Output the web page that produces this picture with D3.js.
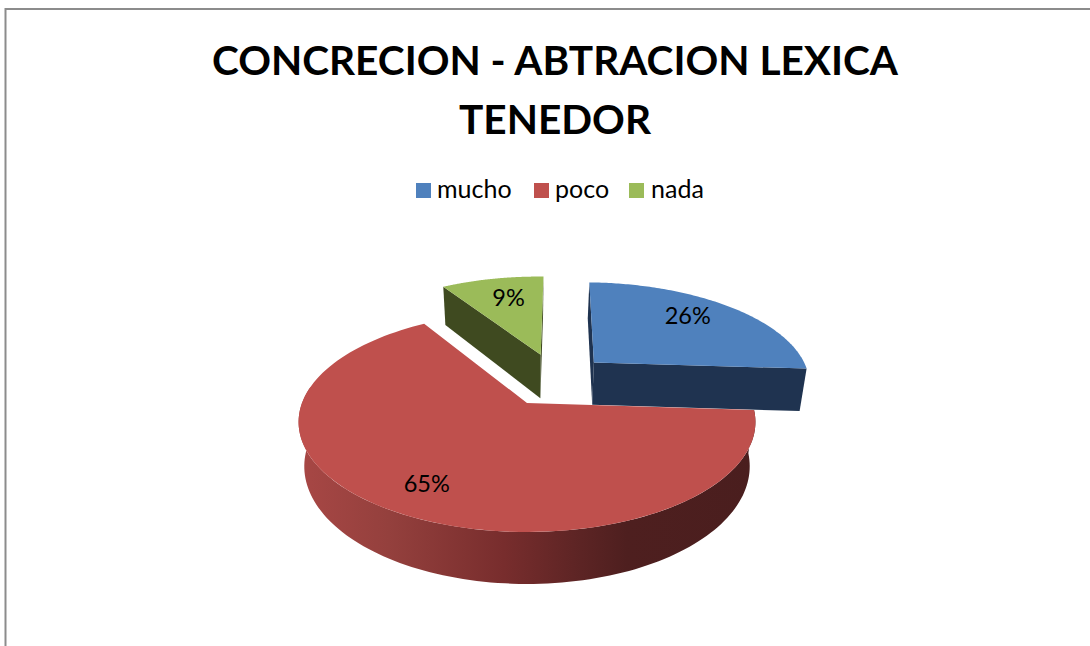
<!DOCTYPE html>
<html><head><meta charset="utf-8">
<script src="https://cdn.jsdelivr.net/npm/d3@7"></script>
<style>html,body{margin:0;padding:0;background:#fff;overflow:hidden}svg{display:block}text{font-family:Lato,"Open Sans",sans-serif;fill:#000}</style>
</head><body><svg id="c" width="1090" height="646"></svg>
<script>
const titleLines = ["CONCRECION - ABTRACION LEXICA", "TENEDOR"];
const categories = ["mucho", "poco", "nada"];
const values = [25.6, 65.2, 9.2];
const colors = ["#4F81BD", "#BF504D", "#9BBB59"];
const wallColors = ["#1F3350", "#4C1F1F", "#3F4A20"];
const explodeX = [0.318, 0, 0.066];
const explodeY = [-0.405, 0, -0.49];
const sliceDepth = [45, 43, 47];
const labelDX = [-10, -1, 6], labelDY = [-2, 3, 3];

const svg = d3.select("#c");
const defs = svg.append("defs");
const grad = defs.append("linearGradient").attr("id", "rim").attr("gradientUnits", "userSpaceOnUse")
  .attr("x1", 298).attr("x2", 755).attr("y1", 0).attr("y2", 0);
[[0, "#A84745"], [0.2, "#94403D"], [0.45, "#782D2D"], [0.62, "#5C2424"], [0.72, "#4E1F1F"], [1, "#4A1E1E"]]
  .forEach(s => grad.append("stop").attr("offset", s[0]).attr("stop-color", s[1]));

// chart frame
svg.append("path").attr("d", "M1090,9H5.5V646").attr("fill", "none").attr("stroke", "#8C8C8C").attr("stroke-width", 2);

// title
svg.append("g").selectAll("text").data(titleLines).join("text")
  .attr("x", 555).attr("y", (d, i) => 75 + i * 59).attr("text-anchor", "middle")
  .attr("font-size", 40.6).attr("font-weight", 700).text(d => d);

// legend
const legendSwatchX = [416, 534, 629], legendTextX = [437, 555, 651];
const legend = svg.append("g").selectAll("g").data(categories).join("g");
legend.append("rect").attr("x", (d, i) => legendSwatchX[i]).attr("y", 183).attr("width", 15).attr("height", 15)
  .attr("fill", (d, i) => colors[i]);
legend.append("text").attr("x", (d, i) => legendTextX[i]).attr("y", 198).attr("font-size", 25).text(d => d);

// perspective projection of the pie plane
const cx = 527, cy = 403, Rx = 225, Ry = 106.7, k = 0.1727, bottomScale = 0.975;
const rotation = 1.5 * Math.PI / 180;
const rxScale = d3.scaleLinear().domain([0, 1]).range([0, Rx]);
const ryScale = d3.scaleLinear().domain([0, 1]).range([0, Ry]);
function project(X, Y, depth) {
  const s = 1 / (1 - k * Y);
  let x = cx + rxScale(X) * s, y = cy + ryScale(Y) * s;
  if (depth) { x = cx + (x - cx) * bottomScale; y += depth * s; }
  return [x, y];
}
const pie = d3.pie().sort(null).value(d => d).startAngle(rotation).endAngle(rotation + 2 * Math.PI)(values);
const line = d3.line();
const pt = (i, r, a, low) => project(explodeX[i] + r * Math.sin(a), explodeY[i] - r * Math.cos(a), low ? sliceDepth[i] : 0);
const rimPts = (i, a0, a1, low) => d3.range(0, 121).map(n => pt(i, 1, a0 + (a1 - a0) * n / 120, low));
const topPath = i => line([pt(i, 0, 0), ...rimPts(i, pie[i].startAngle, pie[i].endAngle, false)]) + "Z";
const wall = (i, a) => line([pt(i, 0, 0), pt(i, 1, a), pt(i, 1, a, true), pt(i, 0, 0, true)]) + "Z";

const g = svg.append("g");
// cut-faces of the exploded slices, behind the big slice
g.append("path").attr("d", wall(2, pie[2].startAngle)).attr("fill", wallColors[2]);
g.append("path").attr("d", wall(2, pie[2].endAngle)).attr("fill", wallColors[2]);
g.append("path").attr("d", wall(0, pie[0].startAngle)).attr("fill", wallColors[0]);
g.append("path").attr("d", wall(0, pie[0].endAngle)).attr("fill", wallColors[0]);
// outer rim of the big slice
const rimA0 = pie[1].startAngle, rimA1 = Math.min(pie[1].endAngle, Math.PI * 1.55);
g.append("path").attr("fill", "url(#rim)")
  .attr("d", line([...rimPts(1, rimA0, rimA1, false), ...rimPts(1, rimA1, rimA0, true)]) + "Z");
// top faces
g.selectAll("path.top").data(pie).join("path").attr("class", "top")
  .attr("d", (d, i) => topPath(i)).attr("fill", (d, i) => colors[i]);

// percentage labels
const total = d3.sum(values);
g.selectAll("text").data(pie).join("text").attr("text-anchor", "middle").attr("font-size", 23.5)
  .attr("x", (d, i) => pt(i, 0.76, (d.startAngle + d.endAngle) / 2)[0] + labelDX[i])
  .attr("y", (d, i) => pt(i, 0.76, (d.startAngle + d.endAngle) / 2)[1] + 8 + labelDY[i])
  .text(d => Math.round(d.value / total * 100) + "%");
</script></body></html>
